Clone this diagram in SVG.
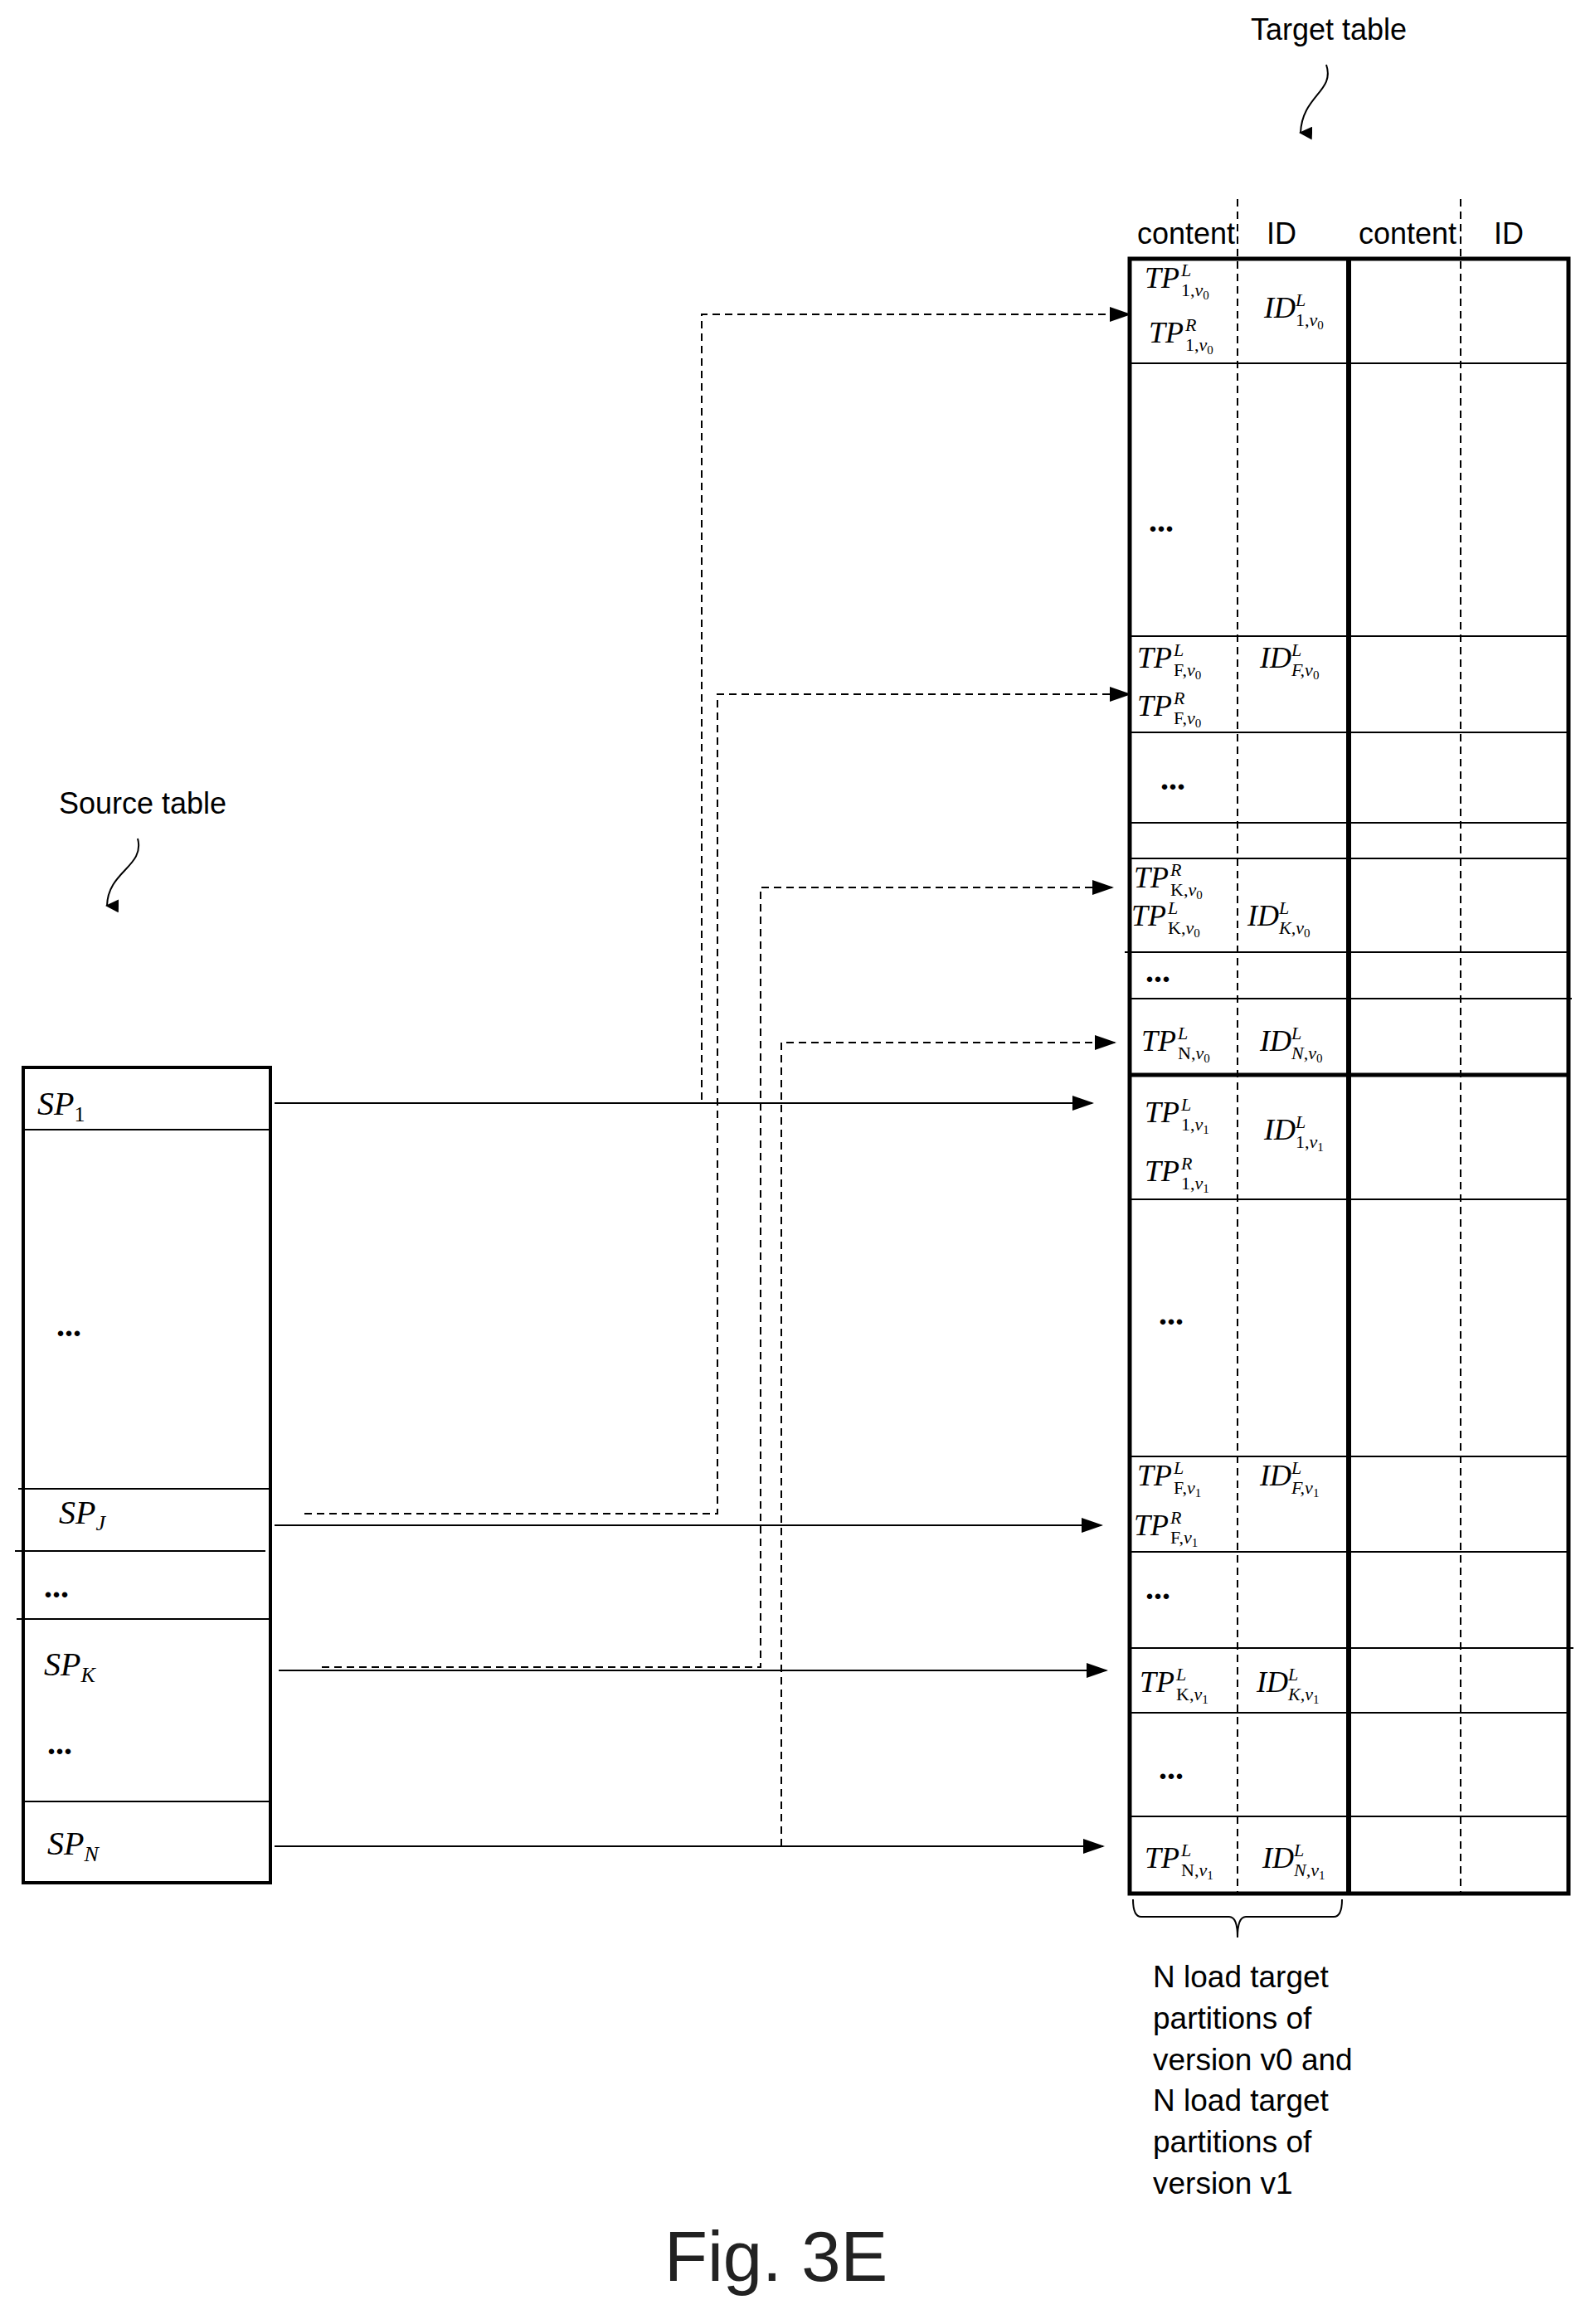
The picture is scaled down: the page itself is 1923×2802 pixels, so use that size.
<svg xmlns="http://www.w3.org/2000/svg" width="1923" height="2802" viewBox="0 0 1923 2802">
<defs>
<marker id="ah" markerUnits="userSpaceOnUse" markerWidth="26" markerHeight="18" refX="24" refY="9" orient="auto"><path d="M0,0 L26,9 L0,18 Z" fill="#000"/></marker>
<marker id="ah2" markerUnits="userSpaceOnUse" markerWidth="16" markerHeight="16" refX="8" refY="14" orient="auto"><path d="M0,0 L16,0 L8,16 Z" fill="#000"/></marker>
</defs>
<style>
.m{font-family:"Liberation Serif",serif;font-style:italic;font-size:36px}
.sp{font-family:"Liberation Serif",serif;font-style:italic;font-size:40px}
.s{font-family:"Liberation Serif",serif;font-size:22px}
.si{font-family:"Liberation Serif",serif;font-style:italic;font-size:22px}
.d{font-family:"Liberation Serif",serif;font-weight:bold;font-size:40px}
.h{font-family:"Liberation Sans",Arial,sans-serif;font-size:36px}
.t{font-family:"Liberation Sans",Arial,sans-serif;font-size:37px}
.ln{stroke:#000;stroke-width:2;fill:none}
.dash{stroke:#000;stroke-width:2;fill:none;stroke-dasharray:9,6}
</style>
<rect width="1923" height="2802" fill="#fff"/>
<g id="labels">
<text class="h" x="1508" y="48">Target table</text>
<path class="ln" d="M1599,78 C1610,110 1570,115 1568,160" marker-end="url(#ah2)"/>
<text class="h" x="71" y="981">Source table</text>
<path class="ln" d="M166,1011 C175,1045 130,1050 129,1092" marker-end="url(#ah2)"/>
</g>
<g id="target-table">
<line class="dash" x1="1492" y1="240" x2="1492" y2="2283" stroke-dasharray="8,5" stroke-width="3"/>
<line class="dash" x1="1761" y1="240" x2="1761" y2="2283" stroke-dasharray="8,5" stroke-width="3"/>
<rect x="1362" y="312" width="529" height="1971" fill="none" stroke="#000" stroke-width="5"/>
<line x1="1626" y1="312" x2="1626" y2="2283" stroke="#000" stroke-width="6"/>
<line x1="1362" y1="1296" x2="1891" y2="1296" stroke="#000" stroke-width="5"/>
<g class="ln">
<line x1="1362" y1="438" x2="1891" y2="438"/><line x1="1362" y1="767" x2="1891" y2="767"/>
<line x1="1362" y1="883" x2="1891" y2="883"/><line x1="1362" y1="992" x2="1891" y2="992"/>
<line x1="1362" y1="1035" x2="1891" y2="1035"/><line x1="1356" y1="1148" x2="1891" y2="1148"/>
<line x1="1362" y1="1204" x2="1895" y2="1204"/><line x1="1362" y1="1446" x2="1891" y2="1446"/>
<line x1="1362" y1="1756" x2="1891" y2="1756"/><line x1="1362" y1="1871" x2="1891" y2="1871"/>
<line x1="1362" y1="1987" x2="1897" y2="1987"/><line x1="1362" y1="2065" x2="1891" y2="2065"/>
<line x1="1362" y1="2190" x2="1891" y2="2190"/>
</g>
<text class="h" x="1371" y="294">content</text><text class="h" x="1527" y="294">ID</text>
<text class="h" x="1638" y="294">content</text><text class="h" x="1801" y="294">ID</text>
<!-- v0 -->
<text class="m" x="1380" y="347">TP</text><text class="si" x="1424" y="333">L</text><text class="s" x="1424" y="357">1,<tspan font-style="italic">v</tspan><tspan font-size="15" dy="4">0</tspan></text>
<text class="m" x="1385" y="413">TP</text><text class="si" x="1429" y="399">R</text><text class="s" x="1429" y="423">1,<tspan font-style="italic">v</tspan><tspan font-size="15" dy="4">0</tspan></text>
<text class="m" x="1524" y="383">ID</text><text class="si" x="1562" y="369">L</text><text class="s" x="1562" y="393">1,<tspan font-style="italic">v</tspan><tspan font-size="15" dy="4">0</tspan></text>
<text class="d" x="1385" y="641">...</text>
<text class="m" x="1371" y="805">TP</text><text class="si" x="1415" y="791">L</text><text class="s" x="1415" y="815">F,<tspan font-style="italic">v</tspan><tspan font-size="15" dy="4">0</tspan></text>
<text class="m" x="1371" y="863">TP</text><text class="si" x="1415" y="849">R</text><text class="s" x="1415" y="873">F,<tspan font-style="italic">v</tspan><tspan font-size="15" dy="4">0</tspan></text>
<text class="m" x="1519" y="805">ID</text><text class="si" x="1557" y="791">L</text><text class="si" x="1557" y="815">F,v<tspan font-size="15" dy="4" font-style="normal">0</tspan></text>
<text class="d" x="1399" y="952">...</text>
<text class="m" x="1367" y="1070">TP</text><text class="si" x="1411" y="1056">R</text><text class="s" x="1411" y="1080">K,<tspan font-style="italic">v</tspan><tspan font-size="15" dy="4">0</tspan></text>
<text class="m" x="1364" y="1116">TP</text><text class="si" x="1408" y="1102">L</text><text class="s" x="1408" y="1126">K,<tspan font-style="italic">v</tspan><tspan font-size="15" dy="4">0</tspan></text>
<text class="m" x="1504" y="1116">ID</text><text class="si" x="1542" y="1102">L</text><text class="si" x="1542" y="1126">K,v<tspan font-size="15" dy="4" font-style="normal">0</tspan></text>
<text class="d" x="1381" y="1184">...</text>
<text class="m" x="1376" y="1267">TP</text><text class="si" x="1420" y="1253">L</text><text class="s" x="1420" y="1277">N,<tspan font-style="italic">v</tspan><tspan font-size="15" dy="4">0</tspan></text>
<text class="m" x="1519" y="1267">ID</text><text class="si" x="1557" y="1253">L</text><text class="si" x="1557" y="1277">N,v<tspan font-size="15" dy="4" font-style="normal">0</tspan></text>
<!-- v1 -->
<text class="m" x="1380" y="1353">TP</text><text class="si" x="1424" y="1339">L</text><text class="s" x="1424" y="1363">1,<tspan font-style="italic">v</tspan><tspan font-size="15" dy="4">1</tspan></text>
<text class="m" x="1380" y="1424">TP</text><text class="si" x="1424" y="1410">R</text><text class="s" x="1424" y="1434">1,<tspan font-style="italic">v</tspan><tspan font-size="15" dy="4">1</tspan></text>
<text class="m" x="1524" y="1374">ID</text><text class="si" x="1562" y="1360">L</text><text class="s" x="1562" y="1384">1,<tspan font-style="italic">v</tspan><tspan font-size="15" dy="4">1</tspan></text>
<text class="d" x="1397" y="1597">...</text>
<text class="m" x="1371" y="1791">TP</text><text class="si" x="1415" y="1777">L</text><text class="s" x="1415" y="1801">F,<tspan font-style="italic">v</tspan><tspan font-size="15" dy="4">1</tspan></text>
<text class="m" x="1367" y="1851">TP</text><text class="si" x="1411" y="1837">R</text><text class="s" x="1411" y="1861">F,<tspan font-style="italic">v</tspan><tspan font-size="15" dy="4">1</tspan></text>
<text class="m" x="1519" y="1791">ID</text><text class="si" x="1557" y="1777">L</text><text class="si" x="1557" y="1801">F,v<tspan font-size="15" dy="4" font-style="normal">1</tspan></text>
<text class="d" x="1381" y="1928">...</text>
<text class="m" x="1374" y="2040">TP</text><text class="si" x="1418" y="2026">L</text><text class="s" x="1418" y="2050">K,<tspan font-style="italic">v</tspan><tspan font-size="15" dy="4">1</tspan></text>
<text class="m" x="1515" y="2040">ID</text><text class="si" x="1553" y="2026">L</text><text class="si" x="1553" y="2050">K,v<tspan font-size="15" dy="4" font-style="normal">1</tspan></text>
<text class="d" x="1397" y="2145">...</text>
<text class="m" x="1380" y="2252">TP</text><text class="si" x="1424" y="2238">L</text><text class="s" x="1424" y="2262">N,<tspan font-style="italic">v</tspan><tspan font-size="15" dy="4">1</tspan></text>
<text class="m" x="1522" y="2252">ID</text><text class="si" x="1560" y="2238">L</text><text class="si" x="1560" y="2262">N,v<tspan font-size="15" dy="4" font-style="normal">1</tspan></text>
<path class="ln" stroke-width="3" d="M1366,2290 Q1366,2311 1376,2311 L1482,2311 Q1492,2311 1492,2336 Q1492,2311 1502,2311 L1608,2311 Q1618,2311 1618,2290"/>
<text class="t" x="1390" y="2396">N load target</text>
<text class="t" x="1390" y="2446">partitions of</text>
<text class="t" x="1390" y="2496">version v0 and</text>
<text class="t" x="1390" y="2545">N load target</text>
<text class="t" x="1390" y="2595">partitions of</text>
<text class="t" x="1390" y="2645">version v1</text>
</g>
<g id="source-table">
<rect x="28" y="1287" width="298" height="983" fill="none" stroke="#000" stroke-width="4"/>
<g class="ln">
<line x1="28" y1="1362" x2="326" y2="1362"/><line x1="22" y1="1795" x2="326" y2="1795"/>
<line x1="18" y1="1870" x2="320" y2="1870"/><line x1="20" y1="1952" x2="326" y2="1952"/>
<line x1="28" y1="2172" x2="326" y2="2172"/>
</g>
<text class="sp" x="45" y="1344">SP<tspan font-size="26" dy="8" font-style="normal">1</tspan></text>
<text class="sp" x="71" y="1837">SP<tspan font-size="26" dy="8">J</tspan></text>
<text class="sp" x="53" y="2020">SP<tspan font-size="26" dy="8">K</tspan></text>
<text class="sp" x="57" y="2236">SP<tspan font-size="26" dy="8">N</tspan></text>
<text class="d" x="68" y="1611">...</text>
<text class="d" x="53" y="1926">...</text>
<text class="d" x="57" y="2115">...</text>
</g>
<g id="connectors">
<line class="ln" x1="331" y1="1330" x2="1317" y2="1330" marker-end="url(#ah)"/>
<line class="ln" x1="331" y1="1839" x2="1328" y2="1839" marker-end="url(#ah)"/>
<line class="ln" x1="336" y1="2014" x2="1334" y2="2014" marker-end="url(#ah)"/>
<line class="ln" x1="331" y1="2226" x2="1330" y2="2226" marker-end="url(#ah)"/>
<polyline class="dash" points="846,1326 846,379 1362,379" marker-end="url(#ah)"/>
<polyline class="dash" points="367,1825 865,1825 865,837 1362,837" marker-end="url(#ah)"/>
<polyline class="dash" points="388,2010 917,2010 917,1070 1341,1070" marker-end="url(#ah)"/>
<polyline class="dash" points="942,2226 942,1257 1344,1257" marker-end="url(#ah)"/>
</g>
<text x="801" y="2750" font-family="Liberation Sans, Arial, sans-serif" font-size="85" fill="#222">Fig. 3E</text>
</svg>
